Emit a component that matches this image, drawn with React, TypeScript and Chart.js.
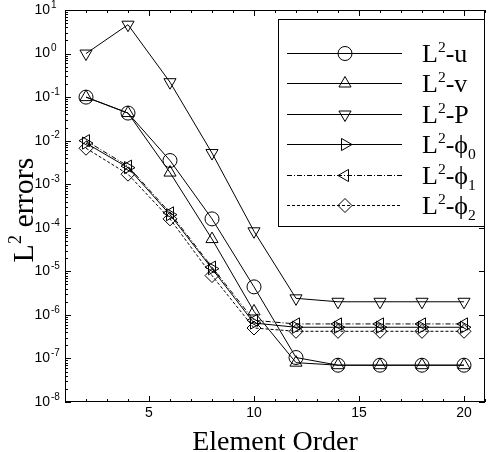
import React, { useEffect, useRef } from 'react';
import { Chart, registerables } from 'chart.js';
import { drawPoint } from 'chart.js/helpers';

Chart.register(...registerables);

// ---- data ----
const orders = [2, 4, 6, 8, 10, 12, 14, 16, 18, 20];
const errU = [1.0e-1, 4.3e-2, 3.5e-3, 1.6e-4, 4.4e-6, 1.05e-7, 7e-8, 7e-8, 7e-8, 7e-8];
const errV = [1.0e-1, 4.3e-2, 1.85e-3, 5.5e-5, 1.2e-6, 8e-8, 7e-8, 7e-8, 7e-8, 7e-8];
const errP = [1.0, 4.6, 2.2e-1, 5.2e-3, 8.3e-5, 2.4e-6, 2e-6, 2e-6, 2e-6, 2e-6];
const errPhi0 = [8.8e-3, 2.4e-3, 2.0e-4, 1.15e-5, 6.5e-7, 5.2e-7, 5.2e-7, 5.2e-7, 5.2e-7, 5.2e-7];
const errPhi1 = [1.0e-2, 2.6e-3, 2.2e-4, 1.25e-5, 7.5e-7, 6.2e-7, 6.2e-7, 6.2e-7, 6.2e-7, 6.2e-7];
const errPhi2 = [6.7e-3, 1.7e-3, 1.6e-4, 8e-6, 5e-7, 4.2e-7, 4.2e-7, 4.2e-7, 4.2e-7, 4.2e-7];
const seriesLabels = ['L²-u', 'L²-v', 'L²-P', 'L²-ϕ₀', 'L²-ϕ₁', 'L²-ϕ₂'];
const xTickValues = [5, 10, 15, 20];
const yDecades = [-8, -7, -6, -5, -4, -3, -2, -1, 0, 1];
const xTitle = 'Element Order';
const yTitleParts = ['L', '2', ' errors'];

const SERIF = '"Liberation Serif", "DejaVu Serif", serif';
const SANS = '"Liberation Sans", Arial, sans-serif';

const drawRichLabel = (ctx: CanvasRenderingContext2D, text: string, x: number, y: number, size: number) => {
  let cx = x;
  for (const ch of Array.from(text)) {
    let t = ch;
    let fs = size;
    let dy = 0;
    if (ch === '²') { t = '2'; fs = size * 0.6; dy = -size * 0.38; }
    else if ('₀₁₂'.includes(ch)) { t = String('₀₁₂'.indexOf(ch)); fs = size * 0.6; dy = size * 0.22; }
    ctx.font = `${fs}px ${SERIF}`;
    ctx.fillText(t, cx, y + dy);
    cx += ctx.measureText(t).width;
  }
};

const decorPlugin = {
  id: 'decor',
  afterDraw(chart: any) {
    const { ctx, chartArea: a, scales } = chart;
    const xs = scales.x;
    const ys = scales.y;
    ctx.save();
    ctx.strokeStyle = '#000';
    ctx.fillStyle = '#000';
    ctx.lineWidth = 1;
    // frame
    ctx.strokeRect(a.left + 0.5, a.top + 0.5, a.right - a.left - 1, a.bottom - a.top - 1);
    ctx.beginPath();
    // y ticks
    yDecades.forEach((d) => {
      const py = Math.round(ys.getPixelForValue(Math.pow(10, d))) + 0.5;
      ctx.moveTo(a.left, py); ctx.lineTo(a.left + 6, py);
      ctx.moveTo(a.right, py); ctx.lineTo(a.right - 6, py);
      if (d < 1) {
        for (let m = 2; m <= 9; m++) {
          const my = Math.round(ys.getPixelForValue(m * Math.pow(10, d))) + 0.5;
          ctx.moveTo(a.left, my); ctx.lineTo(a.left + 3, my);
        }
      }
    });
    // x ticks
    for (let v = Math.ceil(xs.min); v <= xs.max; v++) {
      const px = Math.round(xs.getPixelForValue(v)) + 0.5;
      const len = xTickValues.includes(v) ? 6 : 3;
      ctx.moveTo(px, a.bottom); ctx.lineTo(px, a.bottom - len);
      ctx.moveTo(px, a.top); ctx.lineTo(px, a.top + len);
    }
    ctx.stroke();

    // y tick labels 10^n
    ctx.textBaseline = 'middle';
    yDecades.forEach((d) => {
      const py = ys.getPixelForValue(Math.pow(10, d));
      ctx.font = `14px ${SANS}`;
      ctx.textAlign = 'right';
      ctx.fillText('10', 50, py);
      ctx.font = `10px ${SANS}`;
      ctx.textAlign = 'left';
      ctx.fillText(String(d), 51, py - 5);
    });

    // x title
    ctx.textAlign = 'center';
    ctx.textBaseline = 'alphabetic';
    ctx.font = `28px ${SERIF}`;
    ctx.fillText(xTitle, (a.left + a.right) / 2, 450);

    // y title
    ctx.save();
    ctx.translate(33, 210);
    ctx.rotate(-Math.PI / 2);
    ctx.textAlign = 'left';
    ctx.font = `30px ${SERIF}`;
    const w0 = ctx.measureText(yTitleParts[0]).width;
    const w2 = ctx.measureText(yTitleParts[2]).width;
    ctx.font = `18px ${SERIF}`;
    const w1 = ctx.measureText(yTitleParts[1]).width;
    let ux = -(w0 + w1 + w2) / 2;
    ctx.font = `30px ${SERIF}`;
    ctx.fillText(yTitleParts[0], ux, 0);
    ux += w0;
    ctx.font = `18px ${SERIF}`;
    ctx.fillText(yTitleParts[1], ux, -12);
    ux += w1;
    ctx.font = `30px ${SERIF}`;
    ctx.fillText(yTitleParts[2], ux, 0);
    ctx.restore();

    // legend
    const bx = 278, by = 19, bw = 206, bh = 207;
    ctx.fillStyle = '#fff';
    ctx.fillRect(bx, by, bw, bh);
    ctx.strokeRect(bx + 0.5, by + 0.5, bw, bh);
    ctx.fillStyle = '#000';
    chart.data.datasets.forEach((ds: any, i: number) => {
      const ry = Math.round(53 + i * 30.4) + 0.5;
      ctx.save();
      ctx.setLineDash(ds.borderDash || []);
      ctx.beginPath();
      ctx.moveTo(287, ry); ctx.lineTo(402, ry);
      ctx.stroke();
      ctx.restore();
      ctx.save();
      ctx.fillStyle = 'rgba(0,0,0,0)';
      ctx.strokeStyle = '#000';
      ctx.lineWidth = 1;
      drawPoint(ctx, { pointStyle: ds.pointStyle, rotation: ds.pointRotation || 0, radius: 7, borderWidth: 1 }, 345, ry);
      ctx.restore();
      ctx.textAlign = 'left';
      ctx.textBaseline = 'alphabetic';
      drawRichLabel(ctx, ds.label, 422, ry + 8.5, 26);
    });
    ctx.restore();
  },
};

const mk = (label: string, vals: number[], pointStyle: string, rot: number, dash: number[]) => ({
  label,
  data: orders.map((o, i) => ({ x: o, y: vals[i] })),
  borderColor: '#000',
  borderWidth: 1,
  borderDash: dash,
  pointStyle,
  pointRotation: rot,
  pointRadius: 7,
  pointHoverRadius: 7,
  pointBorderWidth: 1,
  pointBorderColor: '#000',
  pointBackgroundColor: 'rgba(0,0,0,0)',
  fill: false,
  tension: 0,
});

export default function App() {
  const ref = useRef<HTMLCanvasElement>(null);
  useEffect(() => {
    if (!ref.current) return;
    const chart = new Chart(ref.current, {
      type: 'line',
      data: {
        datasets: [
          mk(seriesLabels[0], errU, 'circle', 0, []),
          mk(seriesLabels[1], errV, 'triangle', 0, []),
          mk(seriesLabels[2], errP, 'triangle', 180, []),
          mk(seriesLabels[3], errPhi0, 'triangle', 90, []),
          mk(seriesLabels[4], errPhi1, 'triangle', -90, [5, 2, 1, 2]),
          mk(seriesLabels[5], errPhi2, 'rectRot', 0, [3, 2]),
        ] as any,
      },
      options: {
        animation: false,
        responsive: false,
        events: [],
        layout: { padding: { top: 10, right: 2, left: 0, bottom: 0 } },
        plugins: { legend: { display: false }, tooltip: { enabled: false } },
        scales: {
          x: {
            type: 'linear',
            min: 1,
            max: 21,
            afterBuildTicks: (s: any) => { s.ticks = xTickValues.map((v) => ({ value: v })); },
            afterFit: (s: any) => { s.height = 50; },
            grid: { display: false, drawTicks: false },
            border: { display: false },
            ticks: { font: { family: SANS, size: 14 }, color: '#000', padding: 3, maxRotation: 0 },
          },
          y: {
            type: 'logarithmic',
            min: 1e-8,
            max: 10,
            afterBuildTicks: (s: any) => { s.ticks = yDecades.map((d) => ({ value: Math.pow(10, d) })); },
            afterFit: (s: any) => { s.width = 65; },
            grid: { display: false, drawTicks: false },
            border: { display: false },
            ticks: { display: false },
          },
        },
      } as any,
      plugins: [decorPlugin],
    });
    return () => chart.destroy();
  }, []);
  return (
    <div style={{ position: 'absolute', left: 0, top: 0, width: 493, height: 452, background: '#fff' }}>
      <canvas ref={ref} width={493} height={452} style={{ width: 493, height: 452, display: 'block' }} />
    </div>
  );
}
